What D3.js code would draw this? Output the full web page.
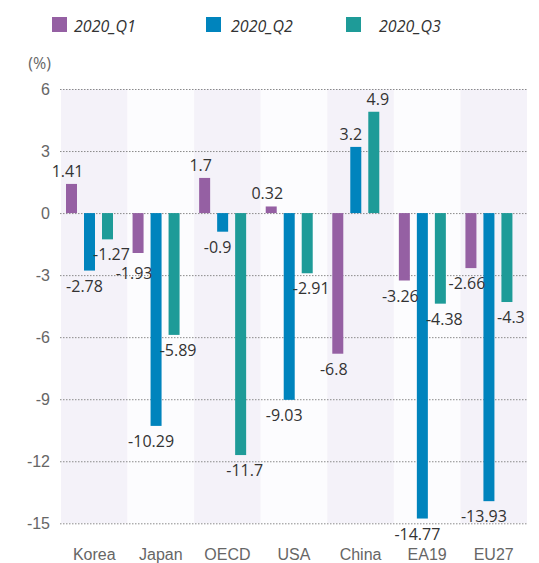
<!DOCTYPE html>
<html><head><meta charset="utf-8">
<script src="https://cdn.jsdelivr.net/npm/d3@7"></script>
<style>
html,body{margin:0;padding:0;background:#fff;}
svg{display:block;font-family:"Open Sans","Noto Sans",sans-serif;}
</style></head>
<body><svg id="chart" width="539" height="563"></svg>
<script>
const categories = ["Korea","Japan","OECD","USA","China","EA19","EU27"];
const seriesNames = ["2020_Q1","2020_Q2","2020_Q3"];
const q1 = [1.41,-1.93,1.7,0.32,-6.8,-3.26,-2.66];
const q2 = [-2.78,-10.29,-0.9,-9.03,3.2,-14.77,-13.93];
const q3 = [-1.27,-5.89,-11.7,-2.91,4.9,-4.38,-4.3];
const yTicks = [6,3,0,-3,-6,-9,-12,-15];
const unitLabel = "(%)";

const colors = ["#9560a3","#0084bd","#1e9b98"];
const labelDx = [-4,-5,4];
const seriesValues = [q1,q2,q3];

const svg = d3.select("#chart");
const x0 = d3.scaleBand().domain(categories).range([61,527]).padding(0);
const x1 = d3.scaleBand().domain(seriesNames).range([5,52]).paddingInner(7/18).paddingOuter(0);
const y = d3.scaleLinear().domain([-15,6]).range([523.3,89]);

// alternating band backgrounds
svg.append("g").selectAll("rect").data(categories).join("rect")
  .attr("x", d=>x0(d)).attr("width", x0.bandwidth())
  .attr("y", y(6)).attr("height", y(-15)-y(6))
  .attr("fill", (d,i)=> i%2===0 ? "#f4f2f9" : "#fcfcfe");

// gridlines
svg.append("g").selectAll("line").data(yTicks).join("line")
  .attr("x1",60).attr("x2",527)
  .attr("y1",d=>y(d)+0.5).attr("y2",d=>y(d)+0.5)
  .attr("stroke","#8a8a8a").attr("stroke-width",1).attr("stroke-dasharray","1.5,1.5");

// y axis labels
const yAxis = d3.axisLeft(y).tickValues(yTicks).tickSize(0).tickPadding(0).tickFormat(d=>d);
const ya = svg.append("g").attr("transform","translate(50,0)").call(yAxis);
ya.select(".domain").remove();
ya.selectAll("text").attr("fill","#666").style("font-size","16px").attr("dy","0.34em");

svg.append("text").attr("x",51).attr("y",69).attr("text-anchor","end")
  .attr("fill","#666").style("font-size","16px").text(unitLabel);

// x axis labels
const xAxis = d3.axisBottom(x0).tickSize(0).tickPadding(0);
const xa = svg.append("g").attr("transform","translate(0,549)").call(xAxis);
xa.select(".domain").remove();
xa.selectAll("text").attr("fill","#666").style("font-size","16px").attr("dy","0.71em");

// bars
const labelsLayer = [];
seriesNames.forEach((s,si)=>{
  const g = svg.append("g");
  const vals = seriesValues[si];
  g.selectAll("rect").data(categories).join("rect")
    .attr("x", d=>x0(d)+x1(s))
    .attr("width", x1.bandwidth())
    .attr("y", (d,i)=> y(Math.max(0,vals[i])))
    .attr("height", (d,i)=> Math.abs(y(vals[i])-y(0)))
    .attr("fill", colors[si]);
});

// data labels with simple overlap avoidance (ordered by category, then series)
const lblG = svg.append("g");
const placed = [];
categories.forEach((c,ci)=>{
  seriesNames.forEach((s,si)=>{
    const v = seriesValues[si][ci];
    const t = lblG.append("text")
      .attr("x", x0(c)+x1(s)+x1.bandwidth()/2+labelDx[si])
      .attr("y", v>=0 ? y(v)-7 : y(v)+21)
      .attr("text-anchor","middle")
      .attr("fill","#333").style("font-size","16px")
      .text(v);
    let b = t.node().getBBox();
    let guard = 0;
    while (guard++ < 10) {
      const hit = placed.find(p => b.x < p.x+p.width && b.x+b.width > p.x && b.y < p.y+p.height-4 && b.y+b.height-4 > p.y);
      if (!hit) break;
      const shift = (v>=0) ? -(b.y+b.height-4-hit.y+1) : (hit.y+hit.height-4-b.y+1);
      t.attr("y", +t.attr("y")+shift);
      b = t.node().getBBox();
    }
    placed.push(b);
  });
});

// legend
const legendX = [52,206,346];
const legendTextX = [74,231,379];
const lg = svg.append("g");
seriesNames.forEach((s,i)=>{
  lg.append("rect").attr("x",legendX[i]).attr("y",17).attr("width",15).attr("height",15).attr("fill",colors[i]);
  lg.append("text").attr("x",legendTextX[i]).attr("y",32).attr("fill","#333")
    .style("font-size","16px").style("font-style","italic").text(s);
});
</script></body></html>
